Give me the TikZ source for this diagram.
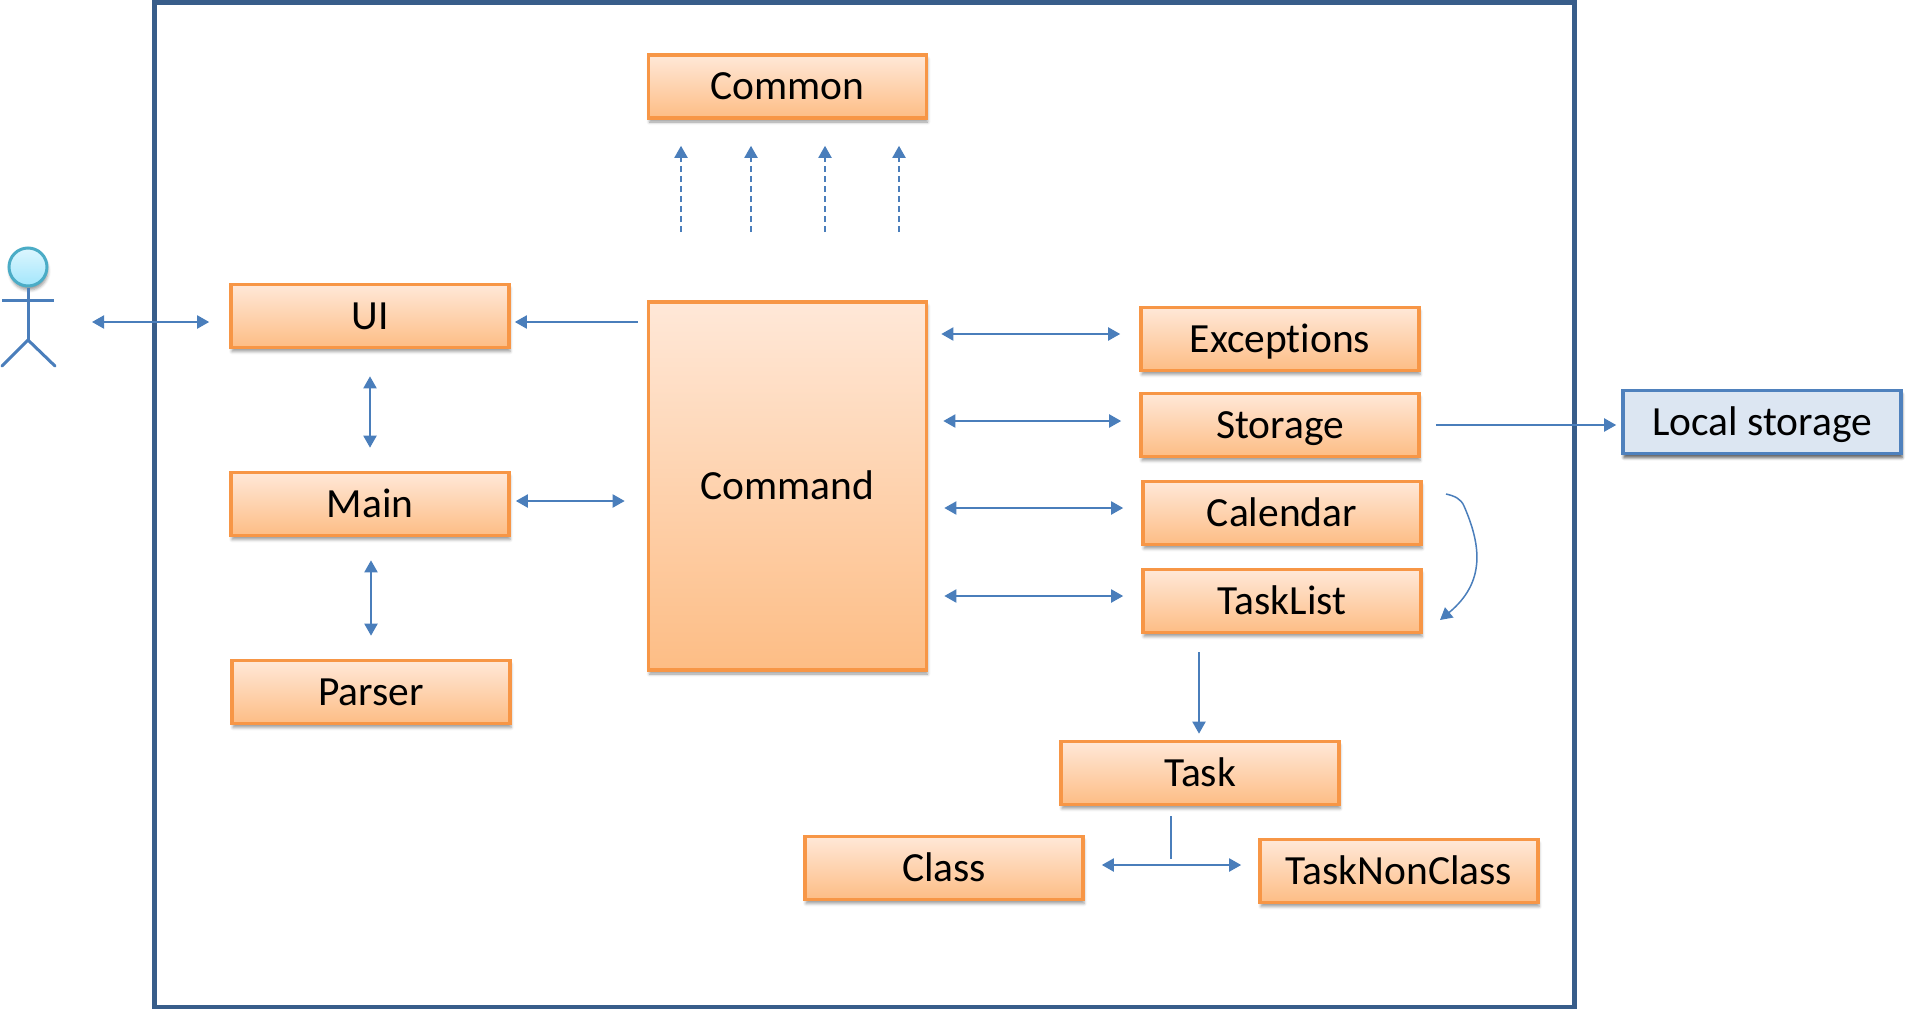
\documentclass[tikz,border=0pt]{standalone}
\usepackage{fontspec}
\setmainfont{Carlito}[Ligatures=NoCommon]
\usetikzlibrary{arrows.meta,shadows.blur,calc}
\definecolor{boxedge}{HTML}{F79646}
\definecolor{boxtop}{HTML}{FFE8D8}
\definecolor{boxbottom}{HTML}{FDBD85}
\definecolor{linkblue}{HTML}{4A7EBB}
\definecolor{frameblue}{HTML}{385D8A}
\definecolor{storefill}{HTML}{DCE6F2}
\definecolor{storeedge}{HTML}{4F81BD}
\definecolor{headedge}{HTML}{4BACC6}
\definecolor{headtop}{HTML}{DDF6FE}
\definecolor{headbottom}{HTML}{A2E6FC}
\tikzset{
  softshadow/.style={blur shadow={shadow xshift=1pt, shadow yshift=-4pt, shadow blur radius=3pt, shadow opacity=40}},
  classbox/.style={draw=boxedge, line width=3.6pt, top color=boxtop, bottom color=boxbottom, minimum width=278pt, minimum height=63pt, inner sep=0pt, text height=31pt, text depth=5pt, font=\fontsize{41.5}{41.5}\selectfont, softshadow},
  biarrow/.style={draw=linkblue, line width=2pt, {Triangle[length=12pt,width=13pt]}-{Triangle[length=12pt,width=13pt]}},
  onearrow/.style={draw=linkblue, line width=2pt, -{Triangle[length=12pt,width=13pt]}},
  dasharrow/.style={onearrow, dash pattern=on 6pt off 4pt},
  plainlink/.style={draw=linkblue, line width=2pt},
  stickman/.style={draw=linkblue, line width=3pt}
}
\begin{document}
\begin{tikzpicture}[x=1pt,y=-1pt]
\useasboundingbox (0,0) rectangle (1909,1009);
\draw [frameblue, line width=5pt] (154,2.5) rectangle (1574,1007);
\node [classbox] (common) at (787.5,86.5){Common};
\node [classbox] (ui) at (370,316){UI};
\node [classbox] (main) at (370,504){Main};
\node [classbox] (parser) at (371,692){Parser};
\node [classbox, minimum height=368pt] (command) at (787.5,486){Command};
\node [classbox] (exceptions) at (1280,339){Exceptions};
\node [classbox] (storage) at (1280,425){Storage};
\node [classbox] (calendar) at (1282,513){Calendar};
\node [classbox] (tasklist) at (1282,601){TaskList};
\node [classbox] (task) at (1200,773){Task};
\node [classbox] (class) at (944,868){Class};
\node [classbox] (tasknonclass) at (1399,871){TaskNonClass};
\node [classbox, draw=storeedge, top color=storefill, bottom color=storefill, softshadow] (localstorage) at (1762,422){Local storage};
\node [circle, draw=headedge, line width=3pt, top color=headtop, bottom color=headbottom, minimum size=38pt, inner sep=0pt, softshadow] (head) at (28,267){};
\coordinate (hip) at (28,340);
\coordinate (actorside) at (92,322);
\draw [stickman] (head.south) -- (hip);
\draw [stickman] (2,300) -- (54,300);
\draw [stickman, line cap=round] (2,366) -- (hip) -- (55,366);
\draw [biarrow, shorten >=20pt] (actorside) -- (actorside -| ui.west);
\draw [biarrow, shorten <=27pt, shorten >=23pt] (ui.south) -- (main.north);
\draw [biarrow, shorten <=23pt, shorten >=23pt] (parser.north |- main.south) -- (parser.north);
\draw [biarrow, shorten <=5pt, shorten >=22pt] ([yshift=3pt]main.east) -- ([yshift=3pt]main.east -| command.west);
\draw [onearrow, shorten <=9pt, shorten >=4pt] ([yshift=-6pt]ui.east -| command.west) -- ([yshift=-6pt]ui.east);
\foreach \x in {681,751,825,899} {
  \coordinate (dashfoot) at (\x,302);
  \draw [dasharrow, shorten <=70pt, shorten >=26pt] (dashfoot) -- (dashfoot |- common.south);
}
\draw [biarrow, shorten <=13pt, shorten >=19pt] ([yshift=5pt]exceptions.west -| command.east) -- ([yshift=5pt]exceptions.west);
\draw [biarrow, shorten <=15pt, shorten >=18pt] ([yshift=4pt]storage.west -| command.east) -- ([yshift=4pt]storage.west);
\draw [biarrow, shorten <=16pt, shorten >=18pt] ([yshift=5pt]calendar.west -| command.east) -- ([yshift=5pt]calendar.west);
\draw [biarrow, shorten <=16pt, shorten >=18pt] ([yshift=5pt]tasklist.west -| command.east) -- ([yshift=5pt]tasklist.west);
\draw [onearrow, shorten <=15pt, shorten >=5pt] (storage.east) -- (localstorage.west |- storage.east);
\coordinate (loopstart) at (1446,494);
\coordinate (loopend) at (1440,620);
\draw [onearrow, line width=1.5pt] (loopstart) .. controls (1455,496) and (1461,499) .. (1464,506) .. controls (1481,545) and (1486,582) .. (loopend);
\draw [onearrow, shorten <=18pt, shorten >=6pt] ([xshift=-1pt]task.north |- tasklist.south) -- ([xshift=-1pt]task.north);
\coordinate (branch) at (1171,865);
\draw [biarrow, shorten <=17pt, shorten >=17pt] (class.east |- branch) -- (tasknonclass.west |- branch);
\draw [plainlink, shorten <=10pt, shorten >=6pt] (branch |- task.south) -- (branch);
\end{tikzpicture}
\end{document}
